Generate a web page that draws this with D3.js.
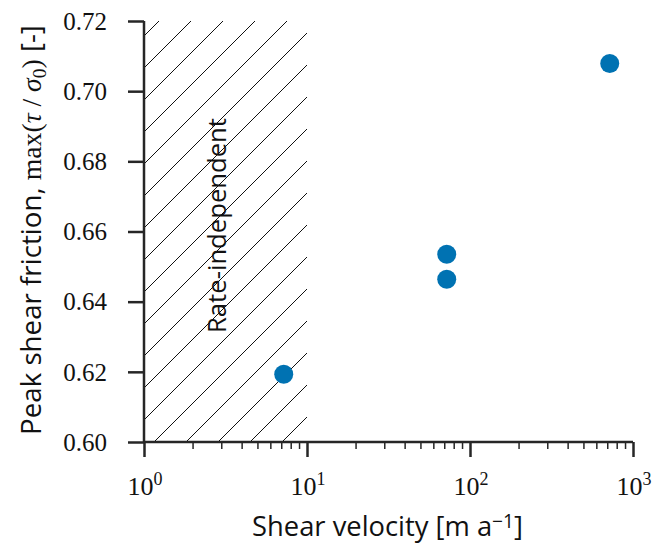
<!DOCTYPE html>
<html><head><meta charset="utf-8">
<script src="https://cdn.jsdelivr.net/npm/d3@7"></script>
<style>body{margin:0;background:#fff}</style>
</head><body>
<svg id="c" width="662" height="545"></svg>
<script>
const velocities = [7.2, 72, 72, 720];
const frictions = [0.6193, 0.6535, 0.6464, 0.7079];
const yTicks = [0.60, 0.62, 0.64, 0.66, 0.68, 0.70, 0.72];
const xTickExps = [0, 1, 2, 3];
const hatchRange = [1, 10];
const hatchLabel = "Rate-independent";

const svg = d3.select("#c");
const L = 144, R = 633, T = 21, B = 442;
const x = d3.scaleLog().domain([1, 1000]).range([L, R]);
const y = d3.scaleLinear().domain([0.60, 0.72]).range([B, T]);
const ink = "#262626";
const sans = "'Open Sans', 'Noto Sans', sans-serif";
const serif = "'Liberation Serif', 'DejaVu Serif', serif";

function fit(t, target) {
  const s0 = parseFloat(t.attr("font-size"));
  const len = t.node().getComputedTextLength();
  t.attr("font-size", s0 * target / len);
}

// hatch pattern
const defs = svg.append("defs");
const pat = defs.append("pattern").attr("id", "hatch").attr("patternUnits", "userSpaceOnUse")
  .attr("width", 32).attr("height", 32).attr("patternTransform", "translate(20,0)");
pat.append("path").attr("d", "M0,32 L32,0 M-2,2 L2,-2 M30,34 L34,30")
  .attr("stroke", "#111").attr("stroke-width", 1);

svg.append("rect").attr("x", x(hatchRange[0])).attr("y", T)
  .attr("width", x(hatchRange[1]) - x(hatchRange[0])).attr("height", B - T)
  .attr("fill", "url(#hatch)");

// label in hatch
const hl = svg.append("text").attr("transform", `translate(226,225.5) rotate(-90)`)
  .attr("text-anchor", "middle").attr("font-family", sans).attr("font-size", 24).attr("fill", "#111")
  .text(hatchLabel);
fit(hl, 215);

// axes
const xAxis = d3.axisBottom(x).tickValues(xTickExps.map(e => Math.pow(10, e))).tickSize(15).tickFormat("");
const gx = svg.append("g").attr("transform", `translate(0,${B})`).call(xAxis);
gx.select(".domain").attr("d", `M${L},0H${R}`).attr("stroke", ink).attr("stroke-width", 2.5);
gx.selectAll(".tick line").attr("stroke", ink).attr("stroke-width", 2.5);

const minors = [];
for (let e = 0; e < 3; e++) for (let m = 2; m <= 9; m++) minors.push(m * Math.pow(10, e));
gx.selectAll(".minor").data(minors).enter().append("line").attr("class", "minor")
  .attr("x1", d => x(d)).attr("x2", d => x(d)).attr("y1", 0).attr("y2", 7)
  .attr("stroke", ink).attr("stroke-width", 1.5);

xTickExps.forEach(e => {
  const t = svg.append("text").attr("x", x(Math.pow(10, e)) + 1).attr("y", 495)
    .attr("text-anchor", "middle").style("font-family", serif).attr("font-size", 26).attr("fill", "#111");
  t.append("tspan").text("10");
  t.append("tspan").attr("dy", -10).attr("font-size", 18).text(String(e));
});

const yAxis = d3.axisLeft(y).tickValues(yTicks).tickSize(16).tickFormat(d3.format(".2f"));
const gy = svg.append("g").attr("transform", `translate(${L},0)`).call(yAxis)
  .attr("font-family", serif).attr("font-size", 25);
gy.select(".domain").attr("d", `M0,${T}V${B}`).attr("stroke", ink).attr("stroke-width", 2.5);
gy.selectAll(".tick line").attr("stroke", ink).attr("stroke-width", 2.5);
gy.selectAll(".tick text").style("font-family", serif).style("font-size", "25px").attr("fill", "#111")
  .attr("x", -37).attr("dy", "0.33em");

// points
svg.append("g").selectAll("circle").data(velocities.map((v, i) => [v, frictions[i]])).enter()
  .append("circle").attr("cx", d => x(d[0])).attr("cy", d => y(d[1])).attr("r", 9.5)
  .attr("fill", "#0072B2");

// x label
const xl = svg.append("text").attr("x", 387.5).attr("y", 536).attr("text-anchor", "middle")
  .attr("font-family", sans).attr("font-size", 24).attr("fill", "#111");
xl.append("tspan").text("Shear velocity [m a");
xl.append("tspan").attr("dy", "-0.4em").attr("font-size", "0.7em").text("−1");
xl.append("tspan").attr("dy", "0.28em").text("]");
fit(xl, 271);

// y label
const yl = svg.append("text").attr("transform", `translate(41,230) rotate(-90)`)
  .attr("text-anchor", "middle").attr("font-size", 24).attr("fill", "#111").attr("font-family", sans);
yl.append("tspan").text("Peak shear friction, ");
yl.append("tspan").style("font-family", serif).text("max(");
yl.append("tspan").style("font-family", serif).attr("font-style", "italic").text("τ");
yl.append("tspan").style("font-family", serif).text(" / ");
yl.append("tspan").style("font-family", serif).attr("font-style", "italic").text("σ");
yl.append("tspan").style("font-family", serif).attr("font-size", "0.7em").attr("dy", "0.25em").text("0");
yl.append("tspan").style("font-family", serif).attr("dy", "-0.175em").text(")");
yl.append("tspan").text(" [-]");
fit(yl, 410);
</script>
</body></html>
